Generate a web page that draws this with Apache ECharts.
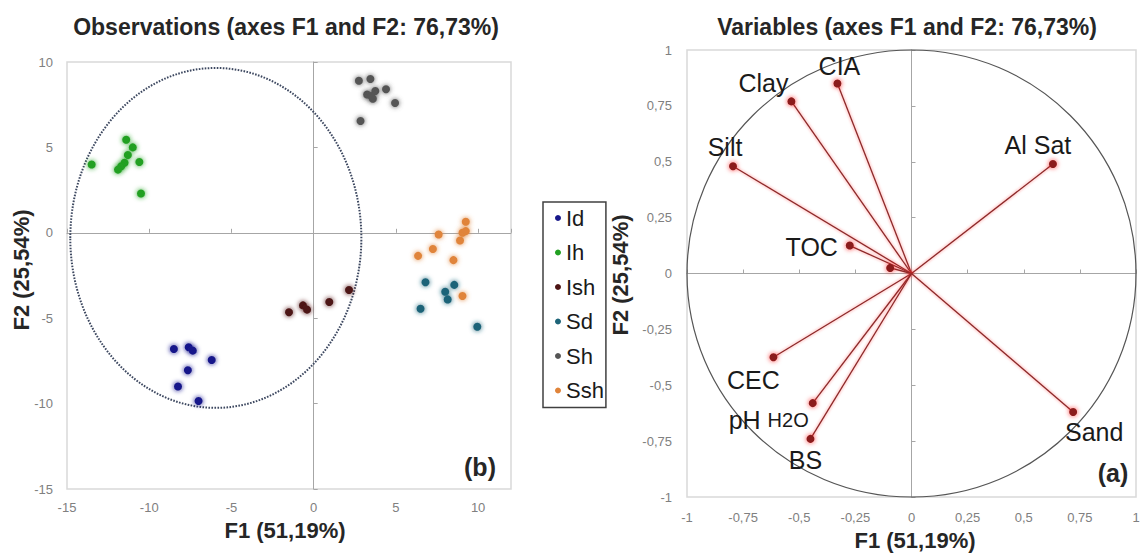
<!DOCTYPE html>
<html>
<head>
<meta charset="utf-8">
<script src="https://cdn.jsdelivr.net/npm/echarts@6/dist/echarts.min.js"></script>
<style>
html, body { margin: 0; padding: 0; background: #fff; }
#main { width: 1140px; height: 555px; }
</style>
</head>
<body>
<div id="main"></div>
<script>
// observations (scores) per group, [F1, F2]
const groups = ['Id', 'Ih', 'Ish', 'Sd', 'Sh', 'Ssh'];
const idPts = [[-8.5, -6.8], [-7.6, -6.7], [-7.35, -6.9], [-6.2, -7.45], [-7.65, -8.05], [-8.25, -9.0], [-7.0, -9.85]];
const ihPts = [[-13.5, 4.0], [-11.4, 5.45], [-11.0, 5.0], [-11.3, 4.55], [-11.5, 4.1], [-11.7, 3.9], [-11.9, 3.7], [-10.6, 4.15], [-10.5, 2.3]];
const ishPts = [[-1.5, -4.65], [-0.65, -4.25], [-0.4, -4.5], [0.95, -4.05], [2.15, -3.35]];
const sdPts = [[6.8, -2.9], [8.55, -3.05], [8.0, -3.45], [8.15, -3.9], [6.5, -4.45], [9.95, -5.5]];
const shPts = [[2.75, 8.9], [3.45, 9.0], [3.25, 8.1], [3.75, 8.3], [3.6, 7.85], [3.5, 8.0], [4.4, 8.4], [4.95, 7.6], [2.85, 6.55]];
const sshPts = [[9.25, 0.65], [9.05, 0.0], [9.25, 0.1], [8.9, -0.45], [7.6, -0.1], [7.25, -0.95], [6.35, -1.35], [8.5, -1.6], [9.05, -3.7]];
// ellipse: centre F1, centre F2, half width, half height
const ellipse = [-5.95, -0.3, 8.85, 9.95];

// variables (loadings)
const varNames = ['CIA', 'Clay', 'Silt', 'Al Sat', 'TOC', '', 'CEC', 'pH H2O', 'BS', 'Sand'];
const varF1 = [-0.33, -0.535, -0.795, 0.63, -0.275, -0.095, -0.615, -0.44, -0.45, 0.72];
const varF2 = [0.85, 0.77, 0.48, 0.49, 0.125, 0.025, -0.375, -0.58, -0.74, -0.62];

// axis ranges
const obsX = [-15, 12, 5];
const obsY = [-15, 10, 5];
const varX = [-1, 1, 0.25];
const varY = [-1, 1, 0.25];

const groupColors = {
    Id: '#17178a',
    Ih: '#22a022',
    Ish: '#4d1414',
    Sd: '#1d6478',
    Sh: '#555555',
    Ssh: '#e0843a'
};
//标签位置 (label centre relative to the point)
const labelOffset = {
    'CIA': [2, -18], 'Clay': [-28, -18], 'Silt': [-8, -19], 'Al Sat': [-15, -19], 'TOC': [-38, 1],
    'CEC': [-20, 23], 'pH H2O': [-44, 17], 'BS': [-5, 21], 'Sand': [21, 20]
};

const FONT = '"Liberation Sans", Arial, sans-serif';
const tickLabel = { color: '#808080', fontSize: 13, fontFamily: FONT };
const zeroColor = '#a6a6a6';
const comma = v => String(v).replace('.', ',');

function labelAxis(grid, r, margin, extra) {
    return Object.assign({
        gridIndex: grid, type: 'value', min: r[0], max: r[1], interval: r[2],
        axisLine: { show: false, onZero: false },
        axisTick: { show: false },
        splitLine: { show: false },
        axisLabel: Object.assign({ margin: margin, formatter: comma }, tickLabel)
    }, extra || {});
}
function zeroAxis(grid, r) {
    return {
        gridIndex: grid, type: 'value', min: r[0], max: r[1], interval: r[2],
        axisLine: { show: true, onZero: true, lineStyle: { color: zeroColor, width: 1 } },
        axisTick: { show: true, length: 4, lineStyle: { color: zeroColor } },
        axisLabel: { show: false },
        splitLine: { show: false }
    };
}
function text(x, y, str, font, rot) {
    return {
        type: 'text', x: x, y: y, rotation: rot || 0, silent: true,
        style: { text: str, font: font, fill: '#262626', align: 'center', verticalAlign: 'middle', textAlign: 'center', textVerticalAlign: 'middle' }
    };
}

let myChart = echarts.init(document.getElementById('main'), null, { renderer: 'svg' });

let series = [
    {   //椭圆
        type: 'custom', xAxisIndex: 0, yAxisIndex: 0, silent: true, z: 1,
        data: [ellipse],
        renderItem: function (params, api) {
            const c = api.coord([api.value(0), api.value(1)]);
            const s = api.size([api.value(2), api.value(3)]);
            return {
                type: 'ellipse',
                shape: { cx: c[0], cy: c[1], rx: s[0], ry: s[1] },
                style: { fill: 'none', stroke: '#3d4860', lineWidth: 2, lineDash: [1.6, 1.4] }
            };
        }
    }
];
[idPts, ihPts, ishPts, sdPts, shPts, sshPts].forEach(function (pts, i) {
    const c = groupColors[groups[i]];
    series.push({
        name: groups[i], type: 'scatter', xAxisIndex: 0, yAxisIndex: 0,
        data: pts, symbolSize: 8, z: 3,
        itemStyle: { color: c, opacity: 1, shadowBlur: 5, shadowColor: c }
    });
});
series.push({   //单位圆
    type: 'custom', xAxisIndex: 2, yAxisIndex: 2, silent: true, z: 1,
    data: [[0, 0, 1, 1]],
    renderItem: function (params, api) {
        const c = api.coord([api.value(0), api.value(1)]);
        const s = api.size([api.value(2), api.value(3)]);
        return {
            type: 'ellipse',
            shape: { cx: c[0], cy: c[1], rx: s[0], ry: s[1] },
            style: { fill: 'none', stroke: '#555', lineWidth: 1.2 }
        };
    }
});
series.push({   //向量
    type: 'custom', xAxisIndex: 2, yAxisIndex: 2, silent: true, z: 2,
    data: varF1.map((x, i) => [x, varF2[i]]),
    renderItem: function (params, api) {
        const o = api.coord([0, 0]);
        const p = api.coord([api.value(0), api.value(1)]);
        return {
            type: 'line',
            shape: { x1: o[0], y1: o[1], x2: p[0], y2: p[1] },
            style: { stroke: '#8a2a2a', lineWidth: 1.3, shadowBlur: 3, shadowColor: 'rgba(255,40,40,0.6)' }
        };
    }
});
series.push({
    type: 'scatter', xAxisIndex: 2, yAxisIndex: 2, z: 3, symbolSize: 8,
    itemStyle: { color: '#8b1c1c', opacity: 1, shadowBlur: 5, shadowColor: 'rgba(255,20,20,0.8)' },
    data: varNames.map((n, i) => ({
        name: n, value: [varF1[i], varF2[i]],
        label: { offset: labelOffset[n] || [0, 0] }
    })),
    label: {
        show: true, position: 'inside', color: '#1a1a1a', fontSize: 25, fontFamily: FONT,
        align: 'center', verticalAlign: 'middle',
        formatter: p => p.name === 'pH H2O' ? '{a|pH} {b|H2O}' : p.name,
        rich: {
            a: { fontSize: 25, color: '#1a1a1a', fontFamily: FONT },
            b: { fontSize: 20, color: '#1a1a1a', fontFamily: FONT }
        }
    }
});

let option = {
    backgroundColor: '#fff',
    animation: false,
    grid: [
        { left: 67, right: 629, top: 62, bottom: 66, show: true, borderColor: '#d9d9d9', borderWidth: 1.5, outerBoundsMode: 'none' },
        { left: 687, right: 4, top: 50, bottom: 58, show: true, borderColor: '#d9d9d9', borderWidth: 1.5, outerBoundsMode: 'none' }
    ],
    xAxis: [
        labelAxis(0, obsX, 12, { position: 'bottom', axisLabel: Object.assign({ margin: 12, showMaxLabel: false }, tickLabel) }),
        zeroAxis(0, obsX),
        labelAxis(1, varX, 14, { position: 'bottom' }),
        zeroAxis(1, varX)
    ],
    yAxis: [
        labelAxis(0, obsY, 14, { position: 'left' }),
        zeroAxis(0, obsY),
        labelAxis(1, varY, 15, { position: 'left' }),
        zeroAxis(1, varY)
    ],
    legend: {
        data: groups, orient: 'vertical', left: 543, top: 202,
        icon: 'circle', itemWidth: 6, itemHeight: 6, itemGap: 12.5,
        padding: [5, 2, 6, 12], borderColor: '#404040', borderWidth: 1.5,
        selectedMode: false,
        textStyle: { fontSize: 22, color: '#1a1a1a', fontFamily: FONT }
    },
    graphic: [
        text(286, 27, 'Observations (axes F1 and F2: 76,73%)', 'bold 23px ' + FONT),
        text(907, 27, 'Variables (axes F1 and F2: 76,73%)', 'bold 23px ' + FONT),
        text(285, 530, 'F1 (51,19%)', 'bold 22px ' + FONT),
        text(915, 540, 'F1 (51,19%)', 'bold 22px ' + FONT),
        text(21, 270, 'F2 (25,54%)', 'bold 22px ' + FONT, Math.PI / 2),
        text(620, 275, 'F2 (25,54%)', 'bold 22px ' + FONT, Math.PI / 2),
        text(480, 467, '(b)', 'bold 25px ' + FONT),
        text(1113, 473, '(a)', 'bold 25px ' + FONT)
    ],
    series: series
};

myChart.setOption(option);
</script>
</body>
</html>
